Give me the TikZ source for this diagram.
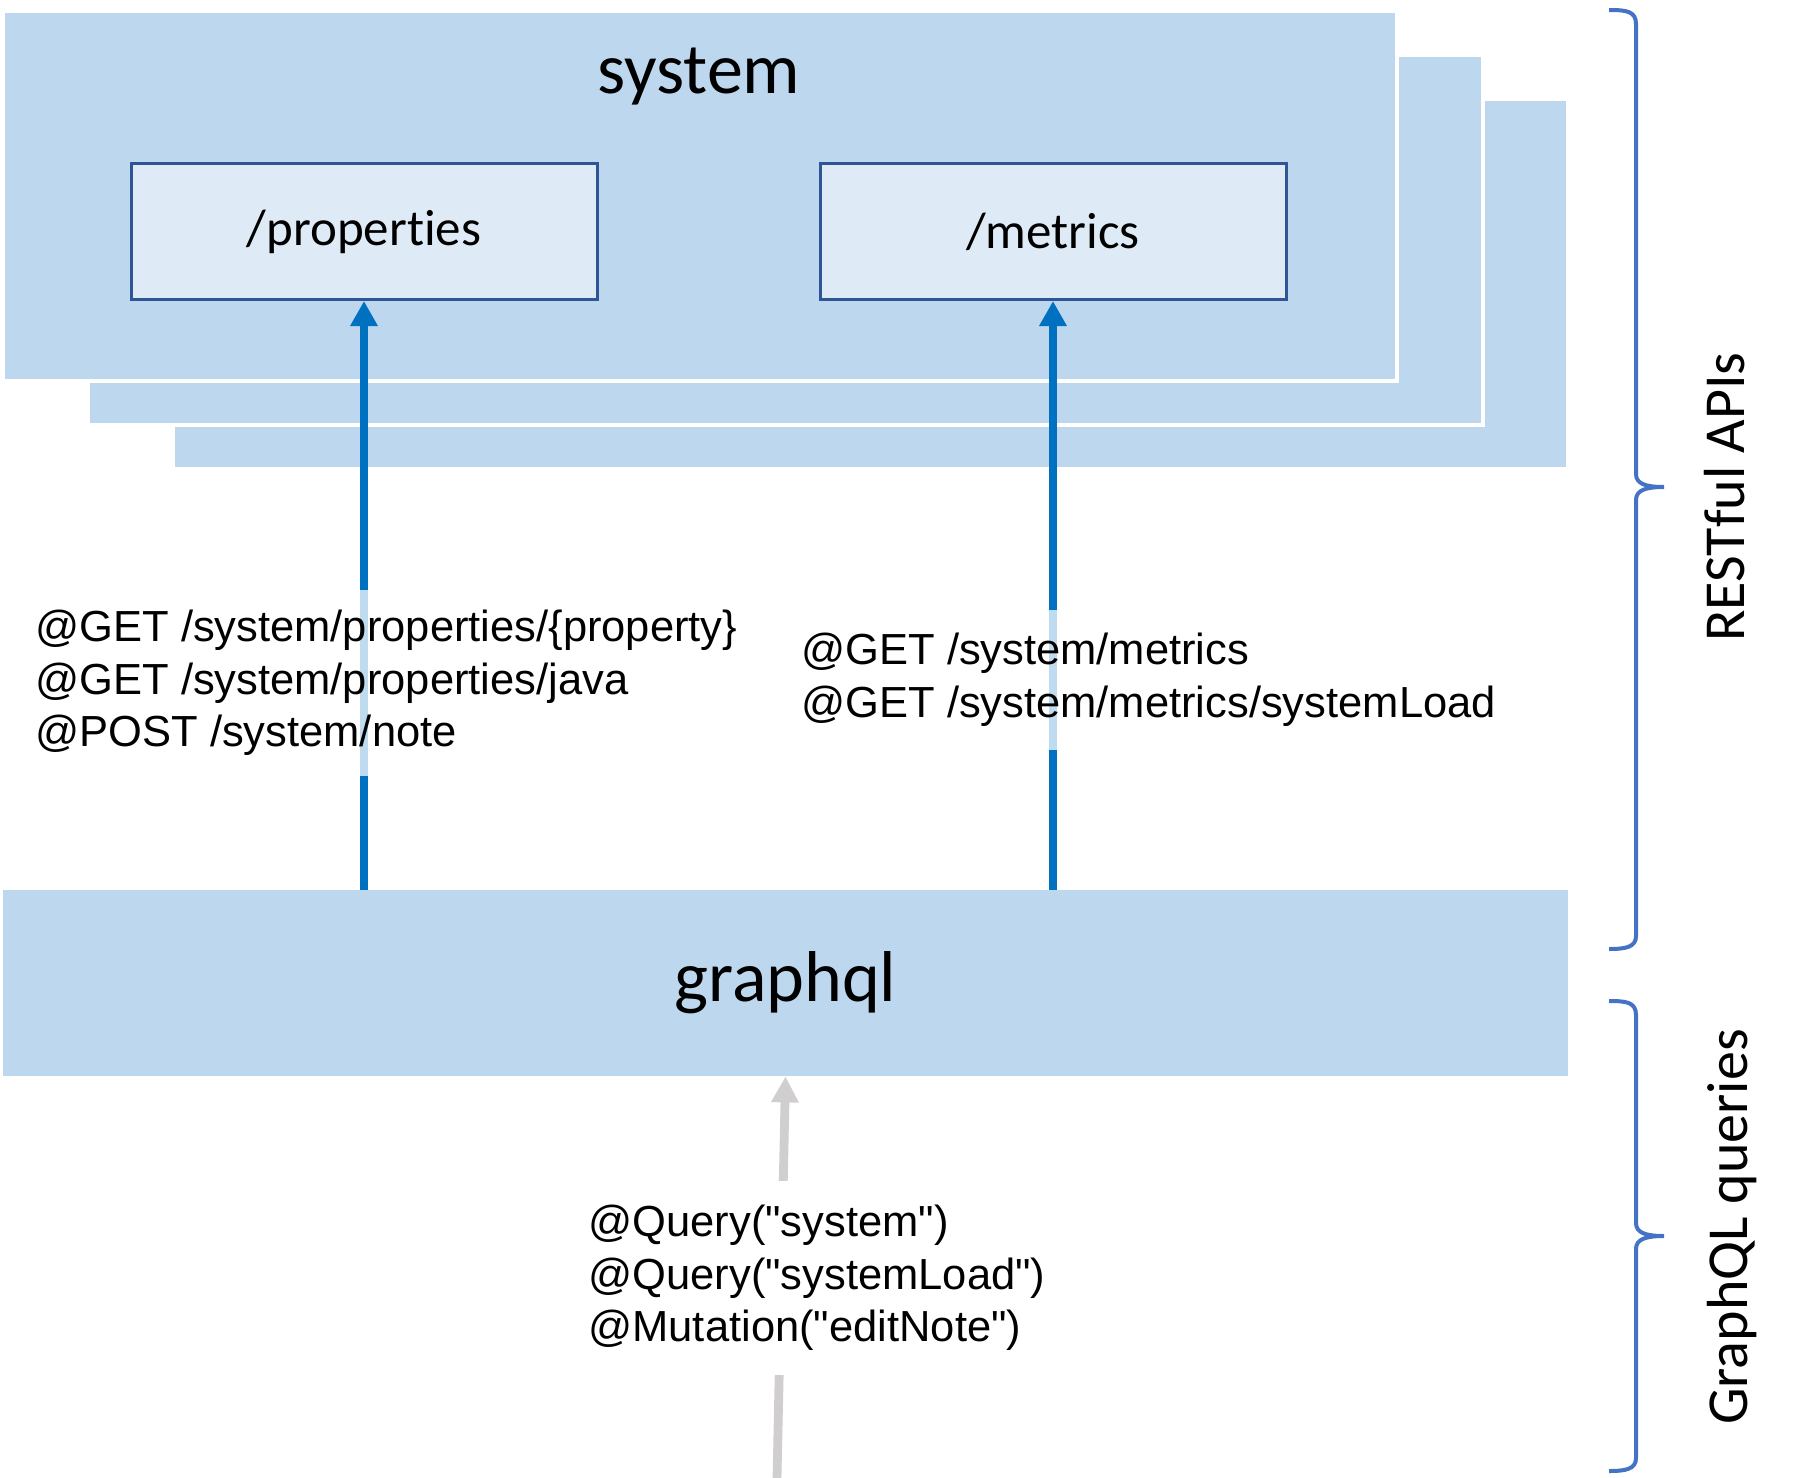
\documentclass[tikz,border=0pt]{standalone}
\usepackage{fontspec}
\setmainfont{Carlito}[Ligatures=NoCommon]
\newfontfamily\arialf{Liberation Sans}
\usetikzlibrary{arrows.meta}
\definecolor{bgblue}{HTML}{BDD7EE}
\definecolor{boxfill}{HTML}{DEEBF7}
\definecolor{boxline}{HTML}{2F5597}
\definecolor{arrblue}{HTML}{0070C0}
\definecolor{arrgray}{HTML}{D0CECE}
\definecolor{bracecol}{HTML}{4472C4}
\begin{document}
\begin{tikzpicture}[x=0.5pt,y=-0.5pt,
  layer/.style={fill=bgblue, draw=white, line width=2pt, inner sep=0pt, minimum width=697.5pt, minimum height=185pt},
  endpoint/.style={draw=boxline, fill=boxfill, line width=1.5pt, minimum width=233pt, minimum height=68pt, inner sep=0pt, font=\fontsize{25.5}{30}\selectfont},
  restarrow/.style={draw=arrblue, line width=3.6pt, -{Triangle[length=12.5pt,width=13pt]}},
  qlarrow/.style={draw=arrgray, line width=4.4pt, -{Triangle[length=13pt,width=13pt]}},
  apilabel/.style={align=left, anchor=west, inner xsep=4pt, font=\arialf\fontsize{21.75}{26.3}\selectfont, fill=white, fill opacity=0.75, text opacity=1},
  bracepath/.style={draw=bracecol, line width=2pt},
  sidetext/.style={rotate=90, anchor=base, font=\fontsize{29}{34}\selectfont},
]
\useasboundingbox (0,0) rectangle (1800,1478);
% stacked system layers
\node[layer] (sys3) at (870.5,284) {};
\node[layer] (sys2) at (785.5,240) {};
\node[layer, minimum width=697pt] (sys1) at (700,196) {};
\node[anchor=base, font=\fontsize{36}{40}\selectfont] (systitle) at (699,93) {system};
% endpoints
\node[endpoint] (props) at (364,231.5) {/properties};
\node[endpoint] (metrics) at (1053,231.5) {/metrics};
% graphql layer
\node[fill=bgblue, inner sep=0pt, minimum width=782.5pt, minimum height=93pt, font=\fontsize{36}{42}\selectfont] (graphql) at (785.5,983) {graphql};
% arrows
\draw[restarrow] (graphql.north -| props.south) -- (props.south);
\draw[restarrow] (graphql.north -| metrics.south) -- (metrics.south);
\coordinate (qlstart) at (777,1478);
\draw[qlarrow] (qlstart) -- (graphql.south);
% labels
\node[apilabel, inner ysep=10pt] (lblprops) at (27,683) {@GET /system/properties/\{property\}\\@GET /system/properties/java\\@POST /system/note};
\node[apilabel, inner ysep=11.5pt] (lblmetrics) at (793,680) {@GET /system/metrics\\@GET /system/metrics/systemLoad};
\node[apilabel, inner ysep=12pt, fill opacity=1] (lblql) at (580,1278) {@Query("system")\\@Query("systemLoad")\\@Mutation("editNote")};
% braces
\coordinate (b1top) at (1609,10);
\coordinate (b1tip) at (1664,487);
\coordinate (b1bot) at (1609,949);
\draw[bracepath] (b1top) .. controls (1626,10) and (1636,11) .. (1636,24) -- (1636,474) .. controls (1636,484) and (1646,487) .. (b1tip) .. controls (1646,487) and (1636,490) .. (1636,500) -- (1636,936) .. controls (1636,947) and (1626,949) .. (b1bot);
\coordinate (b2top) at (1609,1001);
\coordinate (b2tip) at (1664,1236);
\coordinate (b2bot) at (1609,1471);
\draw[bracepath] (b2top) .. controls (1626,1001) and (1636,1002) .. (1636,1015) -- (1636,1223) .. controls (1636,1233) and (1646,1236) .. (b2tip) .. controls (1646,1236) and (1636,1239) .. (1636,1249) -- (1636,1458) .. controls (1636,1469) and (1626,1471) .. (b2bot);
\node[sidetext] (restlbl) at (1744,497) {RESTful APIs};
\node[sidetext] (qllbl) at (1747,1227) {GraphQL queries};
\end{tikzpicture}
\end{document}
